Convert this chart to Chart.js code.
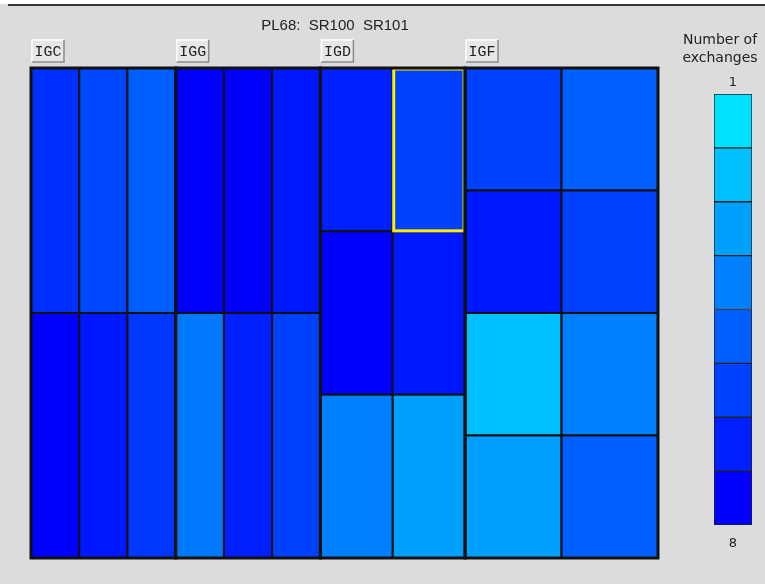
<!DOCTYPE html>
<html lang="en">
<head>
    <meta charset="UTF-8">
    <title>PL68 exchanges</title>
    <script src="https://cdn.jsdelivr.net/npm/chart.js"></script>
    <style>
        body { margin: 0; background: #dcdcdc; }
        #wrap { position: relative; width: 765px; height: 584px; overflow: hidden; }
        #wrap canvas { position: absolute; left: 0; top: 0; }
        #topline { position: absolute; left: 0; top: 0; width: 765px; height: 4px; background: #fff; }
        #topline:after { content: ''; position: absolute; left: 8px; right: 0; top: 4px; height: 2px; background: #333; }
    </style>
</head>
<body>
    <div id="wrap">
        <div id="topline"></div>
        <canvas id="mapChart" width="765" height="584"></canvas>
        <canvas id="legendChart" width="765" height="584"></canvas>
    </div>

    <script>
        const title = 'PL68:  SR100  SR101';
        const groups = ['IGC', 'IGG', 'IGD', 'IGF'];
        const groupWidth = [3, 3, 3, 4];
        const groupCols = [3, 3, 2, 2];
        const groupRows = [2, 2, 3, 4];
        // number of exchanges per cell, column by column, top to bottom
        const igcValues = [6.5, 8, 5.75, 7.25, 5, 6.25];
        const iggValues = [8, 4.25, 8, 7, 7.25, 6];
        const igdValues = [7, 8, 4, 6, 7.25, 3];
        const igfValues = [6, 7.25, 2, 3, 5, 6, 4, 5];
        const groupValues = [igcValues, iggValues, igdValues, igfValues];
        const selectedCell = [2, 1, 0]; // group, column, row
        const legendLevels = [1, 2, 3, 4, 5, 6, 7, 8];
        const legendTitle = ['Number of', 'exchanges'];

        const totalWidth = groupWidth.reduce((a, b) => a + b, 0);
        const totalHeight = 12;

        function levelColor(v) {
            const g = Math.round(224 - (v - 1) * 32);
            return 'rgb(0,' + g + ',255)';
        }

        // draws the map cells with the chart scales
        const cellPlugin = {
            id: 'cells',
            afterDraw(chart) {
                const ctx = chart.ctx;
                const xs = chart.scales.x, ys = chart.scales.y;
                let start = 0;
                let selected = null;
                const groupBoxes = [];
                groups.forEach((name, g) => {
                    const cw = groupWidth[g] / groupCols[g];
                    const rh = totalHeight / groupRows[g];
                    groupValues[g].forEach((v, i) => {
                        const c = Math.floor(i / groupRows[g]);
                        const r = i % groupRows[g];
                        const x0 = xs.getPixelForValue(start + c * cw);
                        const x1 = xs.getPixelForValue(start + (c + 1) * cw);
                        const y0 = ys.getPixelForValue(r * rh);
                        const y1 = ys.getPixelForValue((r + 1) * rh);
                        ctx.fillStyle = levelColor(v);
                        ctx.fillRect(x0, y0, x1 - x0, y1 - y0);
                        ctx.strokeStyle = '#111';
                        ctx.lineWidth = 2;
                        ctx.strokeRect(x0, y0, x1 - x0, y1 - y0);
                        if (g === selectedCell[0] && c === selectedCell[1] && r === selectedCell[2]) {
                            selected = [x0, y0, x1, y1];
                        }
                    });
                    const gx0 = xs.getPixelForValue(start);
                    const gx1 = xs.getPixelForValue(start + groupWidth[g]);
                    groupBoxes.push([gx0, gx1]);
                    start += groupWidth[g];
                });
                if (selected) {
                    ctx.strokeStyle = '#ffee00';
                    ctx.lineWidth = 3;
                    ctx.strokeRect(selected[0] + 1, selected[1] + 1, selected[2] - selected[0] - 2, selected[3] - selected[1] - 1.5);
                }
                const top = ys.getPixelForValue(0), bottom = ys.getPixelForValue(totalHeight);
                ctx.strokeStyle = '#111';
                ctx.lineWidth = 3;
                groupBoxes.forEach(([a, b]) => ctx.strokeRect(a, top, b - a, bottom - top));

                // group buttons
                ctx.font = '15px "Liberation Mono", monospace';
                ctx.textAlign = 'center';
                ctx.textBaseline = 'middle';
                groupBoxes.forEach(([a], g) => {
                    const bx = a + 1, by = 40, bw = 32, bh = 22;
                    ctx.fillStyle = '#e6e6e6';
                    ctx.fillRect(bx, by, bw, bh);
                    ctx.lineWidth = 1.5;
                    ctx.strokeStyle = '#fff';
                    ctx.beginPath();
                    ctx.moveTo(bx, by + bh); ctx.lineTo(bx, by); ctx.lineTo(bx + bw, by);
                    ctx.stroke();
                    ctx.strokeStyle = '#8a8a8a';
                    ctx.beginPath();
                    ctx.moveTo(bx + bw, by); ctx.lineTo(bx + bw, by + bh); ctx.lineTo(bx, by + bh);
                    ctx.stroke();
                    ctx.fillStyle = '#222';
                    ctx.fillText(groups[g], bx + bw / 2, by + bh / 2 + 1);
                });

                ctx.font = '15px "Liberation Sans", sans-serif';
                ctx.textAlign = 'center';
                ctx.textBaseline = 'alphabetic';
                ctx.fillStyle = '#222';
                ctx.fillText(title, 335, 30);
            }
        };

        new Chart(document.getElementById('mapChart'), {
            type: 'scatter',
            data: { datasets: [] },
            options: {
                responsive: false,
                animation: false,
                events: [],
                layout: { padding: { left: 31, right: 107, top: 68, bottom: 26 } },
                scales: {
                    x: { type: 'linear', min: 0, max: totalWidth, display: false },
                    y: { type: 'linear', min: 0, max: totalHeight, reverse: true, display: false }
                },
                plugins: { legend: { display: false }, tooltip: { enabled: false } }
            },
            plugins: [cellPlugin]
        });

        // colour key: one stacked bar per level
        const legendTextPlugin = {
            id: 'legendText',
            afterDraw(chart) {
                const ctx = chart.ctx;
                const area = chart.chartArea;
                const cx = (area.left + area.right) / 2;
                ctx.fillStyle = '#222';
                ctx.textAlign = 'center';
                ctx.textBaseline = 'alphabetic';
                ctx.font = '14px "DejaVu Sans", sans-serif';
                ctx.fillText(legendTitle[0], 720, 44);
                ctx.fillText(legendTitle[1], 720, 62);
                ctx.font = '13px "DejaVu Sans", sans-serif';
                ctx.textBaseline = 'middle';
                ctx.fillText(String(legendLevels[0]), cx, 83);
                ctx.fillText(String(legendLevels[legendLevels.length - 1]), cx, 544);
            }
        };

        new Chart(document.getElementById('legendChart'), {
            type: 'bar',
            data: {
                labels: [''],
                datasets: legendLevels.map(v => ({
                    data: [1],
                    backgroundColor: levelColor(v),
                    borderColor: '#222',
                    borderWidth: 1,
                    borderSkipped: false,
                    barPercentage: 1,
                    categoryPercentage: 1
                }))
            },
            options: {
                responsive: false,
                animation: false,
                events: [],
                layout: { padding: { left: 714, right: 13, top: 94, bottom: 59 } },
                scales: {
                    x: { stacked: true, display: false },
                    y: { stacked: true, min: 0, max: legendLevels.length, reverse: true, display: false }
                },
                plugins: { legend: { display: false }, tooltip: { enabled: false } }
            },
            plugins: [legendTextPlugin]
        });
    </script>
</body>
</html>
